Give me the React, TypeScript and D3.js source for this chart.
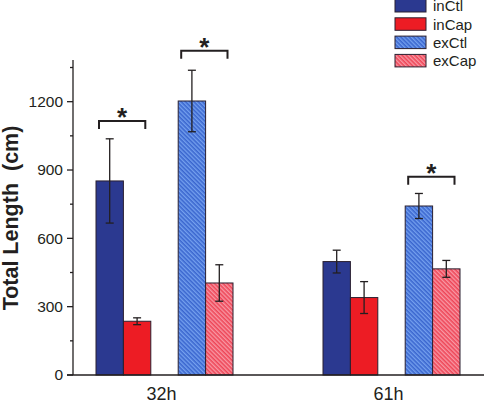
import React from "react";
import * as d3 from "d3";

const groups = ["32h", "61h"];
const seriesNames = ["inCtl", "inCap", "exCtl", "exCap"];
const values32h = [852, 236, 1203, 404];
const errors32h = [185, 15, 135, 80];
const values61h = [498, 340, 742, 466];
const errors61h = [50, 70, 55, 37];
const yTicks = [0, 300, 600, 900, 1200];
const yMinorTicks = [150, 450, 750, 1050, 1350];
// significance brackets: [group index, first series, second series, bracket value]
const sigGroup = [0, 0, 1];
const sigFrom = [0, 2, 2];
const sigTo = [1, 3, 3];
const sigLevel = [1115, 1424, 870];

const W = 484;
const H = 402;

export default function App() {
  const y = d3.scaleLinear().domain([0, 1383]).range([375, 60]);
  const xGroup = d3.scaleBand().domain(groups).range([96, 460]).paddingInner(90 / 227).paddingOuter(0);
  const slot = d3.scaleLinear().domain([0, 5]).range([0, 137]);
  const slotIdx = [0, 1, 3, 4];
  const bw = slot(1) - slot(0);
  const fills = ["#2b3990", "#ed1c24", "url(#hatchBlue)", "url(#hatchRed)"];
  const allVals = [values32h, values61h];
  const allErr = [errors32h, errors61h];
  const barX = (g: number, s: number) => (xGroup(groups[g]) as number) + slot(slotIdx[s]);
  const font = "Arial, 'Liberation Sans', Helvetica, sans-serif";
  const txt = "#231f20";

  return (
    <svg width={W} height={H} style={{ position: "absolute", left: 0, top: 0 }} fontFamily={font}>
      <defs>
        <pattern id="hatchBlue" patternUnits="userSpaceOnUse" width="3" height="3" patternTransform="rotate(-45)">
          <rect width="3" height="3" fill="#3a66cf" />
          <rect width="1.4" height="3" fill="#74a0ee" />
        </pattern>
        <pattern id="hatchRed" patternUnits="userSpaceOnUse" width="3" height="3" patternTransform="rotate(-45)">
          <rect width="3" height="3" fill="#ee4658" />
          <rect width="1.4" height="3" fill="#f898a4" />
        </pattern>
      </defs>

      {/* bars */}
      {groups.map((g, gi) =>
        seriesNames.map((s, si) => {
          const v = allVals[gi][si];
          const x = barX(gi, si);
          return (
            <rect
              key={g + s}
              x={x}
              y={y(v)}
              width={bw}
              height={y(0) - y(v)}
              fill={fills[si]}
              stroke="#2a2030"
              strokeWidth={1}
            />
          );
        })
      )}

      {/* error bars */}
      {groups.map((g, gi) =>
        seriesNames.map((s, si) => {
          const v = allVals[gi][si];
          const e = allErr[gi][si];
          const cx = barX(gi, si) + bw / 2;
          return (
            <g key={"e" + g + s} stroke={txt} strokeWidth={1.3}>
              <line x1={cx} x2={cx} y1={y(v + e)} y2={y(v - e)} />
              <line x1={cx - 4} x2={cx + 4} y1={y(v + e)} y2={y(v + e)} />
              <line x1={cx - 4} x2={cx + 4} y1={y(v - e)} y2={y(v - e)} />
            </g>
          );
        })
      )}

      {/* significance brackets */}
      {sigGroup.map((gi, i) => {
        const x1 = barX(gi, sigFrom[i]) + 3;
        const x2 = barX(gi, sigTo[i]) + bw - 5.5;
        const yy = y(sigLevel[i]);
        return (
          <g key={"sig" + i}>
            <path
              d={`M${x1},${yy + 8}V${yy}H${x2}V${yy + 8}`}
              fill="none"
              stroke={txt}
              strokeWidth={2}
            />
            <text x={(x1 + x2) / 2} y={yy + 5} textAnchor="middle" fontSize={26} fontWeight="bold" fill={txt}>
              *
            </text>
          </g>
        );
      })}

      {/* axes */}
      <line x1={73} x2={73} y1={y(1383)} y2={y(0)} stroke={txt} strokeWidth={1.3} />
      <line x1={67} x2={W} y1={y(0)} y2={y(0)} stroke={txt} strokeWidth={1.3} />
      {yTicks.map((t) => (
        <g key={"t" + t}>
          <line x1={67} x2={73} y1={y(t)} y2={y(t)} stroke={txt} strokeWidth={1.3} />
          <text x={63} y={y(t)} dy="0.35em" textAnchor="end" fontSize={15.5} fill={txt}>
            {t}
          </text>
        </g>
      ))}
      {yMinorTicks.map((t) => (
        <line key={"m" + t} x1={70} x2={73} y1={y(t)} y2={y(t)} stroke={txt} strokeWidth={1.3} />
      ))}
      {groups.map((g) => (
        <text
          key={"xl" + g}
          x={(xGroup(g) as number) + xGroup.bandwidth() / 2 - 3}
          y={400}
          textAnchor="middle"
          fontSize={18}
          fill={txt}
        >
          {g}
        </text>
      ))}
      <text
        transform="translate(18,218) rotate(-90)"
        textAnchor="middle"
        fontSize={21.5}
        fontWeight="bold"
        fill={txt}
        style={{ whiteSpace: "pre" }}
      >
        {"Total Length  (cm)"}
      </text>

      {/* legend */}
      {seriesNames.map((s, i) => {
        const ly = -0.5 + i * 18.3;
        return (
          <g key={"lg" + s}>
            <rect x={395} y={ly} width={31} height={12.5} fill={fills[i]} stroke="#2a2030" strokeWidth={1} />
            <text x={433} y={ly + 6.5} dy="0.35em" fontSize={15} fill={txt}>
              {s}
            </text>
          </g>
        );
      })}
    </svg>
  );
}
